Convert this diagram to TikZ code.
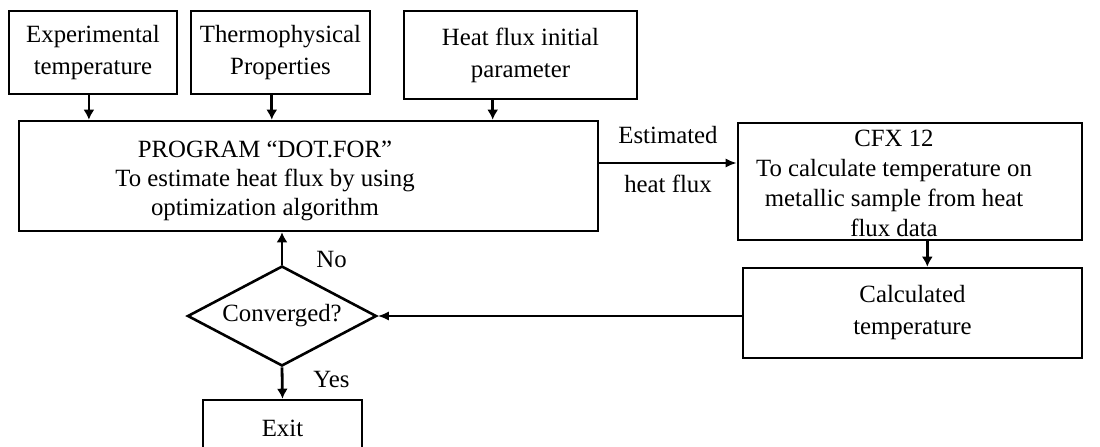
\documentclass[tikz,border=0pt]{standalone}
\usepackage{fontspec}
\setmainfont{Liberation Serif}
\usetikzlibrary{calc,shapes.geometric,arrows.meta,positioning}

\begin{document}
\begin{tikzpicture}[
    x=0.5pt, y=-0.5pt,
    block/.style={rectangle,
        draw=black,
        line width=1.3pt,
        inner sep=0pt,
        text centered,
        align=center,
        font=\fontsize{12.4}{16}\selectfont},
    words/.style={inner sep=0pt, align=center,
        font=\fontsize{12.4}{15}\selectfont},
    decision/.style={diamond, draw=black, line width=1.3pt,
        inner sep=0pt, aspect=1.89,
        font=\fontsize{12.4}{15}\selectfont},
    arr/.style={-{Latex[length=5pt,width=5.5pt]}, line width=1.4pt},
    thinarr/.style={-{Latex[length=5.5pt,width=4.5pt]}, line width=0.9pt},
    ]

    \useasboundingbox (0,0) rectangle (1100,446);
    \clip (0,0) rectangle (1100,446);

    \node [block, minimum width=84pt, minimum height=41.5pt] (exp) at (93,52.5) {Experimental\\temperature};
    \node [block, minimum width=89.5pt, minimum height=41.5pt] (thermo) at (280.5,52.5) {Thermophysical\\Properties};
    \node [block, minimum width=116.5pt, minimum height=44pt] (initial) at (520.5,55) {Heat flux initial\\parameter};

    \node [block, minimum width=289.5pt, minimum height=55pt] (program) at (308.5,176) {};
    \node [words, font=\fontsize{12.4}{14.5}\selectfont] (progtext) at (265,181)
        {PROGRAM “DOT.FOR”\\To estimate heat flux by using\\optimization algorithm};

    \node [block, minimum width=172pt, minimum height=58.5pt] (cfx) at (910,181.5) {};
    \node [words] (cfxtext) at (894,183)
        {CFX 12\\To calculate temperature on\\metallic sample from heat\\flux data};

    \node [block, minimum width=169.5pt, minimum height=45pt] (calc) at (912.5,313) {Calculated\\temperature};
    \node [decision, minimum width=94.5pt, minimum height=50pt] (conv) at (282,316) {Converged?};
    \node [block, minimum width=79.5pt, minimum height=28pt] (exit) at (282.5,428) {Exit};

    % inputs into the program
    \foreach \src/\f in {exp/0.476, thermo/0.452, initial/0.382}
        \draw[arr] ($(\src.south west)!\f!(\src.south east)$) coordinate (foot-\src)
            -- (foot-\src |- program.north);

    \draw[thinarr] ([yshift=6.5pt]program.east) -- ([yshift=6.5pt]program.east -| cfx.west)
        node[words, midway, above=9pt] (estlabel) {Estimated}
        node[words, midway, below=5.5pt] (fluxlabel) {heat flux};

    \draw[arr] ($(cfx.south west)!0.55!(cfx.south east)$) coordinate (foot-cfx)
        -- (foot-cfx |- calc.north);
    \draw[thinarr] (calc.west |- conv.east) -- (conv.east);

    \draw[arr] (conv.north) node[words, right=16.5pt, yshift=2.5pt] (nolabel) {No}
        -- (conv.north |- program.south);
    \draw[arr] (conv.south) node[words, right=15pt, yshift=-6pt] (yeslabel) {Yes}
        -- (exit.north);
\end{tikzpicture}
\end{document}
